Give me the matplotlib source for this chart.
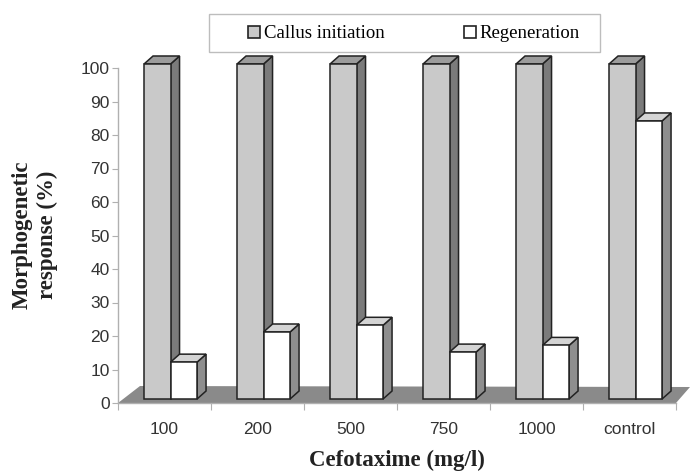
import matplotlib

matplotlib.use("Agg")
import matplotlib.pyplot as plt
import numpy as np
from matplotlib.patches import Patch, Polygon, Rectangle
from matplotlib.transforms import IdentityTransform

categories = ["100", "200", "500", "750", "1000", "control"]
callus_initiation = [100, 100, 100, 100, 100, 100]
regeneration = [11, 20, 22, 14, 16, 83]
series_names = ["Callus initiation", "Regeneration"]

W, H, DPI = 693, 471, 100

fig = plt.figure(figsize=(W / DPI, H / DPI), dpi=DPI)
fig.patch.set_facecolor("white")

# axes placed so 0 sits at y=403px and 100 at y=68px
ax = fig.add_axes([118 / W, (H - 403) / H, 558 / W, 335 / H])
ax.set_xlim(0, len(categories))
ax.set_ylim(0, 100)
ax.patch.set_visible(False)

for side in ["top", "right"]:
    ax.spines[side].set_visible(False)
for side in ["left", "bottom"]:
    ax.spines[side].set_color("#b0b0b0")
    ax.spines[side].set_linewidth(1.0)

ax.set_yticks(np.arange(0, 101, 10))
ax.tick_params(axis="y", direction="out", length=4, color="#b0b0b0",
               labelsize=12.5, labelcolor="#333333", pad=2)
ax.set_xticks(np.arange(0, len(categories) + 1))
ax.set_xticklabels([])
ax.set_xticks(np.arange(len(categories)) + 0.5, minor=True)
ax.set_xticklabels(categories, minor=True)
ax.tick_params(axis="x", which="major", direction="out", length=5,
               color="#b0b0b0")
ax.tick_params(axis="x", which="minor", length=0, labelsize=12.5,
               labelcolor="#333333", pad=14)
for lab in ax.get_xticklabels(minor=True) + ax.get_yticklabels():
    lab.set_family(["Liberation Sans", "DejaVu Sans"])


def px(x, y, dx=0.0, dy=0.0):
    # data point -> display pixel, plus a pixel shift for the 3D depth
    p = ax.transData.transform((x, y))
    return (p[0] + dx, p[1] + dy)


def poly(points, color, z, edge="none", lw=0.0):
    ax.add_patch(Polygon(points, closed=True, facecolor=color,
                         edgecolor=edge, linewidth=lw,
                         transform=IdentityTransform(), zorder=z,
                         clip_on=False, joinstyle="miter"))


# floor
n = len(categories)
poly([px(0, 0), px(n, 0), px(n, 0, 14, 16), px(0, 0, 22, 17)],
     "#8a8a8a", 1)

lift = 4.0        # bars stand a little above the front edge of the floor
depth_x, depth_y = 9.0, 8.0
bar_left, bar_w = 0.28, 0.285
edge = "#222222"


def bar3d(x0, value, front, side, top, z):
    x1 = x0 + bar_w
    fl = px(x0, 0, 0, lift)
    fr = px(x1, 0, 0, lift)
    tl = px(x0, value, 0, lift)
    tr = px(x1, value, 0, lift)
    br = (fr[0] + depth_x, fr[1] + depth_y)
    trb = (tr[0] + depth_x, tr[1] + depth_y)
    tlb = (tl[0] + depth_x, tl[1] + depth_y)
    poly([fr, br, trb, tr], side, z, edge, 1.1)
    poly([tl, tr, trb, tlb], top, z, edge, 1.1)
    poly([fl, fr, tr, tl], front, z + 0.1, edge, 1.1)


for i in range(n):
    x0 = i + bar_left
    bar3d(x0, callus_initiation[i], "#c9c9c9", "#7b7b7b", "#9c9c9c",
          2 + i * 0.5)
    bar3d(x0 + bar_w, regeneration[i], "#ffffff", "#8e8e8e", "#d4d4d4",
          2.2 + i * 0.5)

# legend box + entries
fig.patches.append(Rectangle((209 / W, 1 - 52 / H), 391 / W, 38 / H,
                             transform=fig.transFigure, facecolor="white",
                             edgecolor="#bdbdbd", linewidth=1.0))
handles = [
    Patch(facecolor="#c9c9c9", edgecolor="#222222", linewidth=1.2),
    Patch(facecolor="#ffffff", edgecolor="#222222", linewidth=1.2),
]
fig.legend(handles, series_names, loc="center",
           bbox_to_anchor=(414 / W, 1 - 34 / H), ncol=2, frameon=False,
           prop={"family": ["Liberation Serif", "DejaVu Serif"],
                 "size": 13.5},
           handlelength=0.65, handleheight=0.65, handletextpad=0.2,
           columnspacing=4.2, borderpad=0.0)

serif_bold = {"family": ["Liberation Serif", "DejaVu Serif"],
              "weight": "bold", "size": 16.5}
fig.text(397 / W, 1 - 460 / H, "Cefotaxime (mg/l)", ha="center",
         va="center", color="#222222", **serif_bold)
fig.text(35 / W, 1 - 235 / H, "Morphogenetic\nresponse (%)", ha="center",
         va="center", rotation=90, multialignment="center",
         linespacing=1.25, color="#222222", **serif_bold)

fig.savefig("out.png", dpi=DPI, facecolor="white")
